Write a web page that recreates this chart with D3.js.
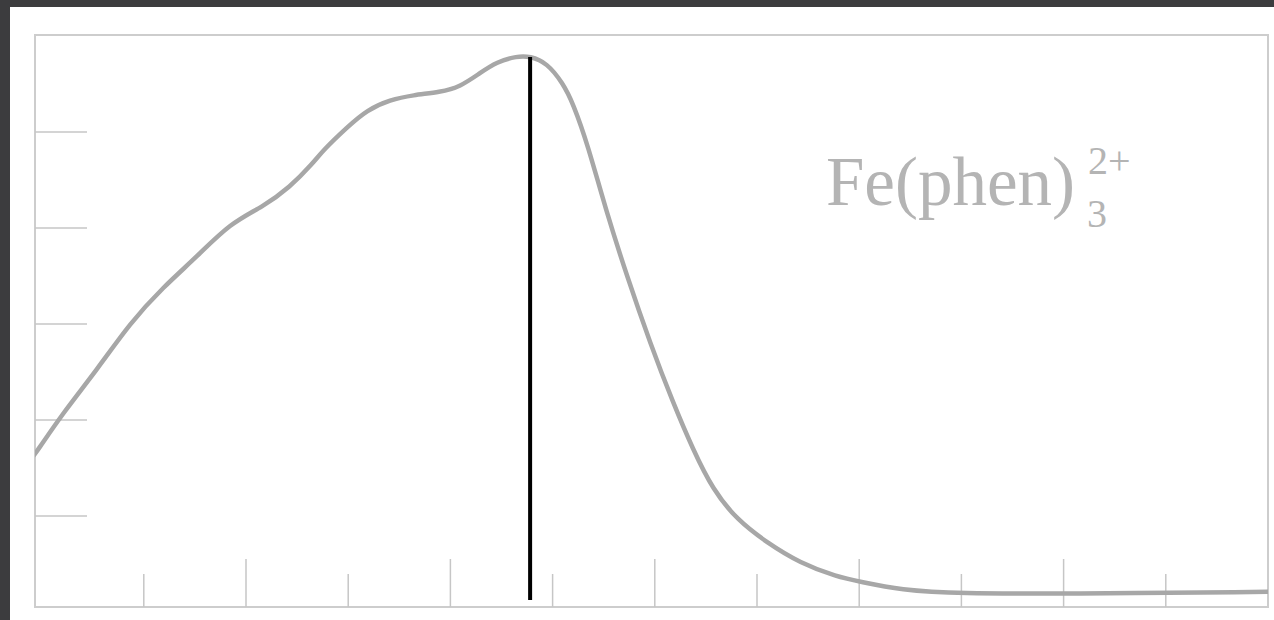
<!DOCTYPE html>
<meta charset="utf-8">
<head>
  <title>Fe(phen)3 2+ Spektrum</title>
</head>
<style>
body { margin: 0; background: #3c3c3e; overflow: hidden; }
svg { display: block; }
.frame { fill: none; stroke: #cdcdcd; stroke-width: 2px; }
.tick { stroke: #c6c6c6; stroke-width: 1.5px; }
.curve { fill: none; stroke: #a7a7a7; stroke-width: 4.5px; stroke-linecap: round; }
.label { fill: #b4b4b4; font-family: "Liberation Serif", "DejaVu Serif", serif; }
</style>
<body>
<script src="https://cdn.jsdelivr.net/npm/d3@7"></script>
<script>

// Wellenlänge (nm) und Absorbanz
var wavelength = [358, 359, 364.2, 370.8, 377.3, 383.8, 390.4, 396.9, 403.3, 408.6, 413.1,
                  415.1, 419.8, 423.7, 428.2, 432.7, 438.0, 441.9, 445.8, 449.1, 453.0,
                  455.6, 458.9, 462.0, 464.0, 466.9, 470.4, 474.6, 479.1, 483.6, 487.5,
                  491.4, 496.1, 502.0, 508.4, 515.7, 520.2, 528.0, 539.7, 559.9, 599.8, 601];
var absorbance = [0.32, 0.333, 0.415, 0.504, 0.602, 0.677, 0.740, 0.810, 0.844, 0.885, 0.935,
                  0.962, 1.010, 1.046, 1.067, 1.077, 1.083, 1.094, 1.123, 1.146, 1.158,
                  1.158, 1.144, 1.102, 1.060, 0.973, 0.838, 0.698, 0.560, 0.435, 0.338,
                  0.254, 0.192, 0.144, 0.102, 0.073, 0.063, 0.046, 0.038, 0.038, 0.042, 0.042];

var xMajorTicks = [400, 440, 480, 520, 560];
var xMinorTicks = [380, 420, 460, 500, 540, 580];
var yTicks = [0.2, 0.4, 0.6, 0.8, 1.0];

// Markierung am Maximum
var markLambda = 455.6;
var markTop = 1.156, markBottom = 0.025;

var labelMain = "Fe(phen)", labelSup = "2+", labelSub = "3";

var width = 1274, height = 620;
var frame = {left: 35, top: 35, right: 1268, bottom: 607};

var svg = d3.select("body").append("svg")
    .attr("width", width)
    .attr("height", height);

// weisses Blatt
svg.append("rect")
    .attr("x", 10).attr("y", 7)
    .attr("width", width - 10).attr("height", height - 7)
    .attr("fill", "#ffffff");

var x = d3.scaleLinear().domain([360, 600]).range([41.6, frame.right]);
var y = d3.scaleLinear().domain([0, 1.2]).range([612, 36]);

var g = svg.append("g");

g.append("clipPath").attr("id", "clip")
  .append("rect")
    .attr("x", frame.left).attr("y", frame.top)
    .attr("width", frame.right - frame.left)
    .attr("height", frame.bottom - frame.top);

// Rahmen
g.append("rect").attr("class", "frame")
    .attr("x", frame.left).attr("y", frame.top)
    .attr("width", frame.right - frame.left)
    .attr("height", frame.bottom - frame.top);

// x-Ticks (lang/kurz)
g.selectAll(".xmajor").data(xMajorTicks).enter()
  .append("line").attr("class", "tick")
    .attr("x1", function(d) { return x(d); })
    .attr("x2", function(d) { return x(d); })
    .attr("y1", frame.bottom).attr("y2", frame.bottom - 48);
g.selectAll(".xminor").data(xMinorTicks).enter()
  .append("line").attr("class", "tick")
    .attr("x1", function(d) { return x(d); })
    .attr("x2", function(d) { return x(d); })
    .attr("y1", frame.bottom).attr("y2", frame.bottom - 33);

// y-Ticks
g.selectAll(".ytick").data(yTicks).enter()
  .append("line").attr("class", "tick")
    .attr("x1", frame.left).attr("x2", frame.left + 52)
    .attr("y1", function(d) { return y(d); })
    .attr("y2", function(d) { return y(d); });

var points = wavelength.map(function(d, i) { return [d, absorbance[i]]; });

var line = d3.line()
    .x(function(d) { return x(d[0]); })
    .y(function(d) { return y(d[1]); })
    .curve(d3.curveBasis);

g.append("path").attr("class", "curve")
    .attr("clip-path", "url(#clip)")
    .datum(points)
    .attr("d", line);

// senkrechte Linie
g.append("line")
    .attr("x1", x(markLambda)).attr("x2", x(markLambda))
    .attr("y1", y(markTop)).attr("y2", y(markBottom))
    .attr("stroke", "#000").attr("stroke-width", 4);

// Beschriftung
var lbl = g.append("text").attr("class", "label")
    .attr("x", 826).attr("y", 205)
    .attr("font-size", 69)
    .text(labelMain);
var endX = 826 + lbl.node().getComputedTextLength();

g.append("text").attr("class", "label")
    .attr("x", endX + 13).attr("y", 174)
    .attr("font-size", 40)
    .text(labelSup);
g.append("text").attr("class", "label")
    .attr("x", endX + 12).attr("y", 227)
    .attr("font-size", 40)
    .text(labelSub);

</script>
</body>
